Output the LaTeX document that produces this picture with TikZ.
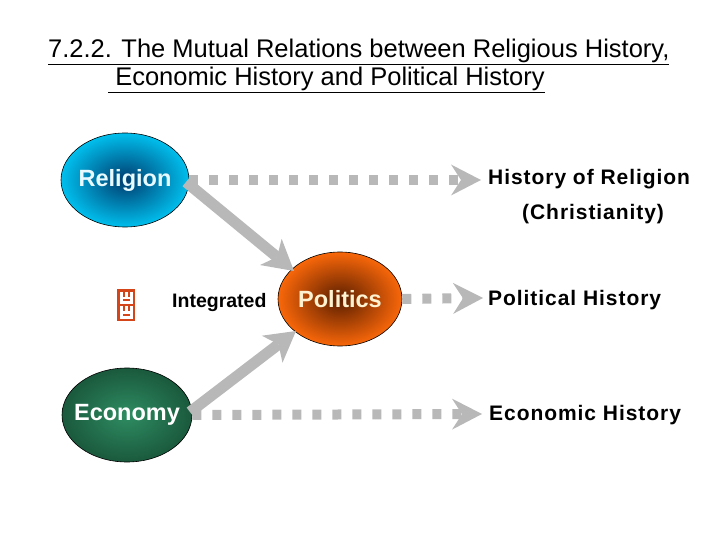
\documentclass[tikz,border=0pt]{standalone}
\usepackage{fontspec}
\setmainfont{Liberation Sans}
\usetikzlibrary{arrows.meta,shapes.geometric}
\definecolor{relcyan}{HTML}{00C4F2}
\definecolor{reldark}{HTML}{003C6E}
\definecolor{polorange}{HTML}{FF6A0A}
\definecolor{poldark}{HTML}{5A1E00}
\definecolor{ecodark}{HTML}{0E3A26}
\definecolor{ecolight}{HTML}{2E8C62}
\definecolor{arrowgray}{HTML}{B8B8B8}
\definecolor{iconorange}{HTML}{D5451A}
\definecolor{reltext}{HTML}{E6FAFF}
\definecolor{poltext}{HTML}{FFF2D0}
\pgfdeclareradialshading{relshade}{\pgfpoint{0bp}{0bp}}{color(0bp)=(reldark); color(26bp)=(relcyan); color(50bp)=(relcyan)}
\pgfdeclareradialshading{polshade}{\pgfpoint{0bp}{0bp}}{color(0bp)=(poldark); color(26bp)=(polorange); color(50bp)=(polorange)}
\pgfdeclareradialshading{ecoshade}{\pgfpoint{0bp}{0bp}}{color(0bp)=(ecolight); color(40bp)=(ecodark); color(50bp)=(ecodark)}
\tikzset{
  blob/.style={ellipse, minimum width=128pt, minimum height=94pt, draw=black, line width=0.6pt, inner sep=0pt},
  blobtext/.style={inner sep=0pt, font=\bfseries\fontsize{23.5}{28}\selectfont},
  dashlink/.style={draw=arrowgray, line width=10pt, dash pattern=on 9pt off 11pt,
     -{Stealth[length=30pt, width=31pt, inset=10pt, fill=arrowgray, line width=0pt]}},
  solidlink/.style={draw=arrowgray, line width=11pt,
     -{Stealth[length=30pt, width=34pt, inset=8pt, fill=arrowgray, line width=0pt]}},
  histlabel/.style={anchor=west, inner sep=0pt, font=\bfseries\fontsize{21}{24}\selectfont\addfontfeatures{LetterSpace=4.5}},
  titletext/.style={anchor=base west, inner sep=0pt, font=\fontsize{25.5}{30}\selectfont},
}
\begin{document}
\begin{tikzpicture}[x=1pt,y=-1pt]
\useasboundingbox (0,0) rectangle (720,540);
% title
\node[titletext] (title1) at (48,58) {\underline{7.2.2. The Mutual Relations between Religious History,}};
\node[titletext] (title2) at (108,86) {\underline{\ Economic History and Political History}};
% ellipses
\node[blob, shading=relshade] (rel) at (125,180) {};
\node[blobtext, text=reltext] (reltxt) at (rel.center) {Religion};
\node[blob, minimum width=124pt, shading=polshade] (pol) at (340,299) {};
\node[blobtext, text=poltext] (poltxt) at (pol.center) {Politics};
\node[blob, minimum width=130pt, shading=ecoshade] (eco) at (127,415) {};
\node[blobtext, text=white] (ecotxt) at (eco.center) {Economy};
% labels
\node[histlabel] (hrel) at (488,179) {History of Religion};
\node[histlabel] (christ) at (522,214) {(Christianity)};
\node[histlabel] (polhist) at (488,300) {Political History};
\node[histlabel] (ecohist) at (489,415) {Economic History};
\node[anchor=west, inner sep=0pt, font=\bfseries\fontsize{19.5}{23}\selectfont] (integ) at (172,303) {Integrated};
% icon
\fill[iconorange] (117,289) rectangle (135,321);
\fill[white] (119.5,291.5) rectangle (132.5,304);
\fill[white] (119.5,306) rectangle (132.5,318.5);
\fill[iconorange] (122.5,291.5) rectangle (124.5,296.5);
\fill[iconorange] (127.5,291.5) rectangle (129.5,296.5);
\fill[iconorange] (122.5,299) rectangle (129.5,301);
\fill[iconorange] (122.5,306) rectangle (124.5,311);
\fill[iconorange] (127.5,306) rectangle (129.5,311);
\fill[iconorange] (122.5,313.5) rectangle (129.5,315.5);
% connectors
\coordinate (relend) at (481,180);
\coordinate (polend) at (483,298);
\coordinate (ecoend) at (482,414);
\draw[dashlink] (rel.east) -- (relend);
\draw[dashlink] (pol.east) -- (polend);
\draw[dashlink] (eco.east) -- (ecoend);
\coordinate (relstart) at (186,182);
\coordinate (poltop) at (294,271);
\coordinate (ecostart) at (190,412);
\coordinate (polbot) at (296,331);
\draw[solidlink] (relstart) -- (poltop);
\draw[solidlink] (ecostart) -- (polbot);
\end{tikzpicture}
\end{document}
